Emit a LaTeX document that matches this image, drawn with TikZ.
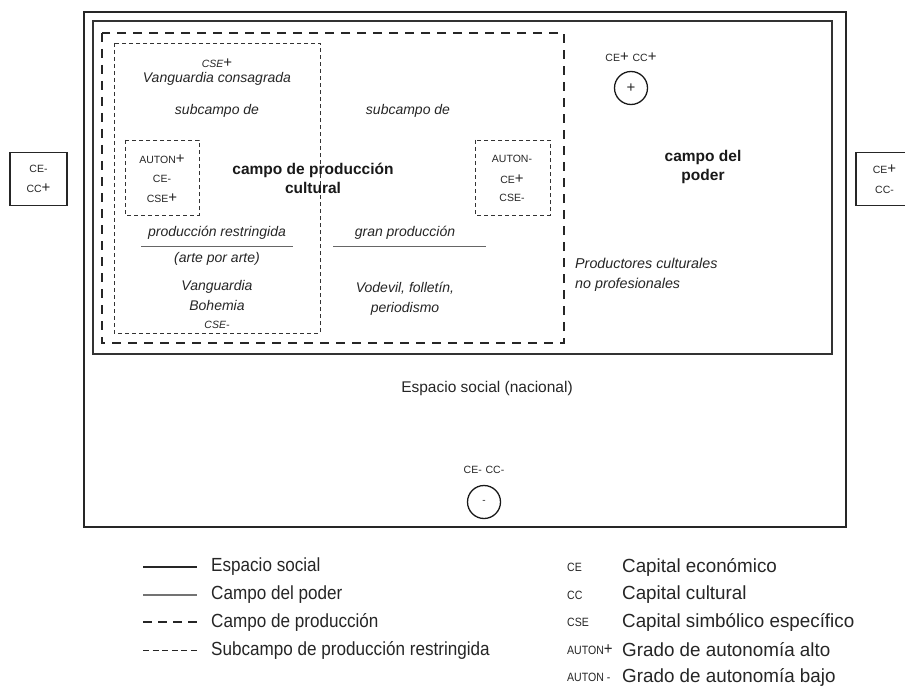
\documentclass[tikz,border=0pt]{standalone}
\usepackage{fontspec}
\setmainfont{Liberation Sans}
\newfontfamily\legfont[FakeStretch=0.9]{Liberation Sans}
\newfontfamily\legfontr[FakeStretch=0.99]{Liberation Sans}
\newfontfamily\abfont[FakeStretch=0.88]{Liberation Sans}
\newcommand\mysc[1]{{\fontsize{10.5}{11}\selectfont #1}}
\newcommand\myplus{{\fontsize{15}{15}\selectfont\upshape +}}
\begin{document}
\begin{tikzpicture}[x=1pt,y=-1pt,
  frame/.style={draw=black!85, line width=2.2pt},
  poderframe/.style={draw=black!80, line width=2pt},
  prod/.style={draw=black!85, line width=2pt, dash pattern=on 9pt off 7pt},
  sub/.style={draw=black!80, line width=0.9pt, dash pattern=on 4pt off 3pt},
  it/.style={inner sep=0pt, align=center, text=black!85, font=\fontsize{14}{20}\selectfont\itshape},
  up/.style={inner sep=0pt, align=center, text=black!85, font=\fontsize{14}{20}\selectfont},
  bold/.style={inner sep=0pt, align=center, text=black!90, font=\fontsize{15.5}{19}\selectfont\bfseries},
  captxt/.style={inner sep=0pt, align=center, text=black!85, font=\fontsize{14}{20}\selectfont},
  sidebox/.style={draw=black!85, line width=1.3pt, minimum width=57pt, minimum height=53pt, inner sep=0pt, align=center, text=black!85, font=\fontsize{14}{20}\selectfont},
  signcirc/.style={draw=black!90, line width=1.3pt, circle, minimum size=33pt, inner sep=0pt, text=black!85, font=\fontsize{15}{15}\selectfont},
  underl/.style={draw=black!60, line width=1pt},
  legtxt/.style={inner sep=0pt, anchor=west, text=black!85, font=\legfont\fontsize{19}{20}\selectfont},
  legtxtr/.style={inner sep=0pt, anchor=west, text=black!85, font=\legfontr\fontsize{19}{20}\selectfont},
  legab/.style={inner sep=0pt, anchor=west, text=black!85, font=\abfont\fontsize{12}{12}\selectfont},
]
\useasboundingbox (0,0) rectangle (905,690);
\fill[white] (0,0) rectangle (905,690);

% frames
\draw[frame] (84,12) rectangle (846,527);
\draw[poderframe] (93,21) rectangle (832,354);
\draw[prod] (102,33) rectangle (564,343);
\draw[sub] (114,43) rectangle (320,333);
\draw[sub] (125,140) rectangle (199,215);
\draw[sub] (475,140) rectangle (550,215);

% subcampo restringida texts
\node[it] (cseplus) at (217,63) {\mysc{CSE}\myplus};
\node[it] (vcons) at (217,79) {Vanguardia consagrada};
\node[it] (subl) at (217,111) {subcampo de};
\node[it] (subr) at (408,111) {subcampo de};

\node[captxt] (autl) at (162,159) {\mysc{AUTON}\myplus};
\node[captxt] (cel) at (162,179) {\mysc{CE-}};
\node[captxt] (csel) at (162,198) {\mysc{CSE}\myplus};

\node[captxt] (autr) at (512,159) {\mysc{AUTON-}};
\node[captxt] (cer) at (512,179) {\mysc{CE}\myplus};
\node[captxt] (cser) at (512,198) {\mysc{CSE-}};

\node[bold] (cpc) at (313,178) {campo de producción\\cultural};

\node[it] (prest) at (217,233) {producción restringida};
\coordinate (ul1a) at (141,246);
\coordinate (ul1b) at (293,246);
\draw[underl] (ul1a) -- (ul1b);
\node[it] (apa) at (217,259) {(arte por arte)};
\node[it] (vb) at (217,295) {Vanguardia\\Bohemia};
\node[it] (csemin) at (217,325) {\mysc{CSE-}};

\node[it] (gprod) at (405,233) {gran producción};
\coordinate (ul2a) at (333,246);
\coordinate (ul2b) at (486,246);
\draw[underl] (ul2a) -- (ul2b);
\node[it] (vod) at (405,299) {Vodevil, folletín,\\periodismo};

% campo del poder
\node[captxt] (ceccp) at (631,57) {\mysc{CE}\myplus\ \mysc{CC}\myplus};
\node[signcirc] (plus) at (631,88) {+};
\node[bold] (cdp) at (703,167) {campo del\\poder};
\node[it, align=left, anchor=west, font=\fontsize{14.3}{20}\selectfont\itshape] (prodcult) at (575,275) {Productores culturales\\no profesionales};

% espacio social
\node[up, font=\fontsize{15.5}{18}\selectfont] (esn) at (487,388) {Espacio social (nacional)};
\node[captxt] (ceccm) at (484,470) {\mysc{CE-}\ \mysc{CC-}};
\node[signcirc, font=\fontsize{10}{10}\selectfont] (minus) at (484,502) {-};

% side boxes
\node[sidebox] (lbox) at (38.5,179) {\mysc{CE-}\\\mysc{CC}\myplus};
\node[sidebox] (rbox) at (884.5,179) {\mysc{CE}\myplus\\\mysc{CC-}};

% legend
\coordinate (l1a) at (143,567); \coordinate (l1b) at (197,567);
\coordinate (l2a) at (143,595); \coordinate (l2b) at (197,595);
\coordinate (l3a) at (143,622); \coordinate (l3b) at (197,622);
\coordinate (l4a) at (143,650); \coordinate (l4b) at (197,650);
\draw[draw=black!85, line width=1.1pt] (l1a) -- (l1b);
\draw[draw=black!55, line width=1.6pt] (l2a) -- (l2b);
\draw[draw=black!85, line width=1.8pt, dash pattern=on 9pt off 6pt] (l3a) -- (l3b);
\draw[draw=black!85, line width=1pt, dash pattern=on 6pt off 3.6pt] (l4a) -- (l4b);
\node[legtxt] (t1) at (211,567) {Espacio social};
\node[legtxt] (t2) at (211,595) {Campo del poder};
\node[legtxt] (t3) at (211,622) {Campo de producción};
\node[legtxt] (t4) at (211,650) {Subcampo de producción restringida};

\node[legab] (a1) at (567,567) {CE};
\node[legab] (a2) at (567,595) {CC};
\node[legab] (a3) at (567,622) {CSE};
\node[legab] (a4) at (567,650) {AUTON{\fontsize{17}{17}\selectfont +}};
\node[legab] (a5) at (567,677) {AUTON -};

\node[legtxtr] (d1) at (622,567) {Capital económico};
\node[legtxtr] (d2) at (622,595) {Capital cultural};
\node[legtxtr] (d3) at (622,622) {Capital simbólico específico};
\node[legtxtr] (d4) at (622,650) {Grado de autonomía alto};
\node[legtxtr] (d5) at (622,677) {Grado de autonomía bajo};
\end{tikzpicture}
\end{document}
